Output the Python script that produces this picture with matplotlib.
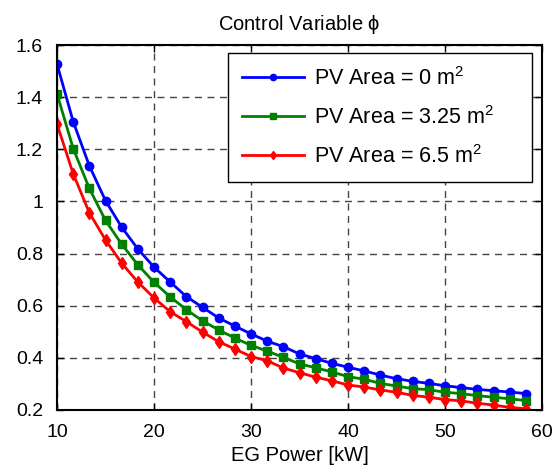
import matplotlib
matplotlib.use("Agg")
import matplotlib.pyplot as plt
import numpy as np

plt.rcParams['font.family'] = ['Liberation Sans', 'DejaVu Sans']
plt.rcParams['mathtext.fontset'] = 'custom'
plt.rcParams['mathtext.rm'] = 'Liberation Sans'
plt.rcParams['mathtext.it'] = 'Liberation Sans'

# EG power [kW], 30 samples
eg_power = [10.0, 11.67, 13.33, 15.0, 16.67, 18.33, 20.0, 21.67, 23.33, 25.0,
            26.67, 28.33, 30.0, 31.67, 33.33, 35.0, 36.67, 38.33, 40.0, 41.67,
            43.33, 45.0, 46.67, 48.33, 50.0, 51.67, 53.33, 55.0, 56.67, 58.33]

phi_pv0 = [1.527, 1.306, 1.137, 1.003, 0.901, 0.818, 0.748, 0.691, 0.635, 0.594,
           0.553, 0.522, 0.492, 0.464, 0.443, 0.415, 0.397, 0.379, 0.364, 0.350,
           0.334, 0.320, 0.310, 0.302, 0.293, 0.286, 0.279, 0.274, 0.269, 0.263]

phi_pv325 = [1.413, 1.203, 1.050, 0.927, 0.836, 0.757, 0.690, 0.634, 0.585, 0.542,
             0.507, 0.476, 0.448, 0.426, 0.402, 0.377, 0.362, 0.346, 0.328, 0.318,
             0.302, 0.292, 0.282, 0.278, 0.268, 0.263, 0.255, 0.249, 0.243, 0.236]

phi_pv65 = [1.297, 1.106, 0.957, 0.852, 0.763, 0.691, 0.630, 0.577, 0.539, 0.499,
            0.462, 0.434, 0.405, 0.389, 0.361, 0.343, 0.326, 0.312, 0.296, 0.288,
            0.277, 0.268, 0.256, 0.249, 0.240, 0.235, 0.226, 0.219, 0.210, 0.205]

labels = ['PV Area = 0 m$^2$', 'PV Area = 3.25 m$^2$', 'PV Area = 6.5 m$^2$']

fig = plt.figure(figsize=(5.59, 4.72), dpi=100)
ax = fig.add_axes([57 / 559, 1 - 410 / 472, (542 - 57) / 559, (410 - 45) / 472])

ax.plot(eg_power, phi_pv0, color='#0000ff', lw=2, marker='o', ms=6, label=labels[0])
ax.plot(eg_power, phi_pv325, color='#008000', lw=2, marker='s', ms=5.5, label=labels[1])
ax.plot(eg_power, phi_pv65, color='#ff0000', lw=2, marker='d', ms=6, label=labels[2])

ax.set_xlim(10, 60)
ax.set_ylim(0.2, 1.6)
ax.set_xticks([10, 20, 30, 40, 50, 60])
ax.set_yticks([0.2, 0.4, 0.6, 0.8, 1.0, 1.2, 1.4, 1.6])
ax.set_yticklabels(['0.2', '0.4', '0.6', '0.8', '1', '1.2', '1.4', '1.6'])
ax.tick_params(direction='in', top=True, right=True, labelsize=14, length=5, width=1)
ax.tick_params(axis='y', pad=10)
ax.tick_params(axis='x', pad=10)
ax.grid(True, color='#444444', ls=(0, (5, 4)), lw=1)
for s in ax.spines.values():
    s.set_linewidth(1.5)

ax.set_title(r'Control Variable $\phi$', fontsize=14.5, pad=11)
ax.set_xlabel('EG Power [kW]', fontsize=14.5, labelpad=4)

# legend box spans px 228..532 horizontally, top at 53 (axes px 57..542, 45..410)
leg = ax.legend(loc='upper left', bbox_to_anchor=(0.3526, 0.978, 0.6268, 0.0),
                mode='expand', fontsize=15.5, numpoints=1, handlelength=2.9,
                handletextpad=0.45, borderpad=0.65, markerscale=0.75,
                fancybox=False, framealpha=1, edgecolor='black',
                borderaxespad=0.0, labelspacing=0.75)
leg.get_frame().set_linewidth(1)

fig.savefig('out.png', dpi=100)
